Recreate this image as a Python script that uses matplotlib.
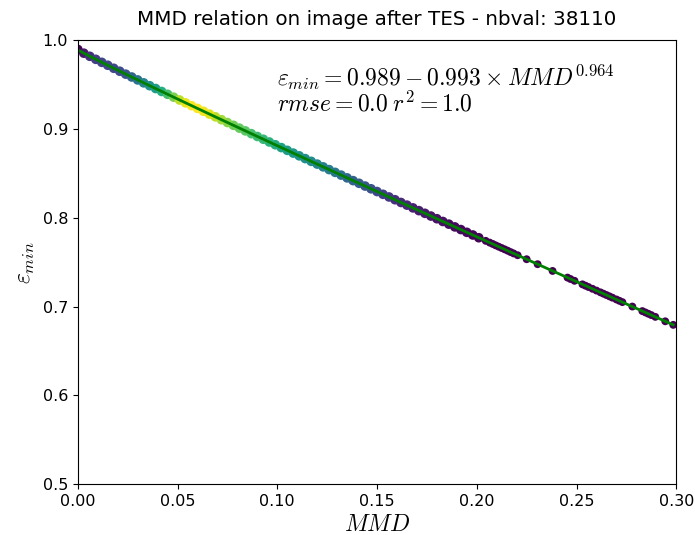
import matplotlib
matplotlib.use("Agg")
import matplotlib.pyplot as plt
import numpy as np

plt.rcParams["mathtext.fontset"] = "cm"
plt.rcParams["xtick.labelsize"] = 11.5
plt.rcParams["ytick.labelsize"] = 11.5

# dense part of the cloud (MMD, eps_min, point density 0..1)
mmd_dense = [0.000, 0.003, 0.006, 0.009, 0.012, 0.015, 0.018, 0.021, 0.024, 0.027,
             0.030, 0.033, 0.036, 0.039, 0.042, 0.045, 0.048, 0.051, 0.054, 0.057,
             0.060, 0.063, 0.066, 0.069, 0.072, 0.075, 0.078, 0.081, 0.084, 0.087,
             0.090, 0.093, 0.096, 0.099, 0.102, 0.105, 0.108, 0.111, 0.114, 0.117,
             0.120, 0.123, 0.126, 0.129, 0.132, 0.135, 0.138, 0.141, 0.144, 0.147,
             0.150, 0.153, 0.156, 0.159, 0.162, 0.165, 0.168, 0.171, 0.174, 0.177,
             0.180, 0.183, 0.186, 0.189, 0.192, 0.195, 0.198, 0.201]
eps_dense = [0.9895, 0.9853, 0.9818, 0.9784, 0.9750, 0.9717, 0.9683, 0.9650, 0.9617, 0.9585,
             0.9552, 0.9519, 0.9487, 0.9455, 0.9422, 0.9390, 0.9358, 0.9326, 0.9294, 0.9262,
             0.9231, 0.9199, 0.9167, 0.9136, 0.9104, 0.9072, 0.9041, 0.9009, 0.8978, 0.8947,
             0.8915, 0.8884, 0.8853, 0.8822, 0.8790, 0.8759, 0.8728, 0.8697, 0.8666, 0.8635,
             0.8604, 0.8573, 0.8542, 0.8511, 0.8480, 0.8449, 0.8418, 0.8388, 0.8357, 0.8326,
             0.8295, 0.8264, 0.8234, 0.8203, 0.8172, 0.8142, 0.8111, 0.8080, 0.8050, 0.8019,
             0.7989, 0.7958, 0.7928, 0.7897, 0.7867, 0.7836, 0.7806, 0.7775]
dens_dense = [0.00, 0.06, 0.14, 0.18, 0.20, 0.21, 0.22, 0.23, 0.26, 0.32,
              0.38, 0.44, 0.50, 0.55, 0.62, 0.70, 0.80, 0.90, 0.97, 1.00,
              1.00, 0.98, 0.95, 0.90, 0.86, 0.82, 0.78, 0.76, 0.74, 0.71,
              0.69, 0.67, 0.64, 0.61, 0.57, 0.55, 0.53, 0.51, 0.49, 0.48,
              0.46, 0.44, 0.42, 0.40, 0.36, 0.33, 0.31, 0.29, 0.27, 0.25,
              0.22, 0.19, 0.16, 0.14, 0.12, 0.11, 0.09, 0.08, 0.07, 0.06,
              0.05, 0.04, 0.03, 0.03, 0.02, 0.02, 0.01, 0.01]

# sparse tail
mmd_tail = [0.2045, 0.2065, 0.2080, 0.2095, 0.2110, 0.2125, 0.2140, 0.2155, 0.2170, 0.2185,
            0.2205, 0.2250, 0.2305, 0.2380, 0.2455, 0.2470, 0.2490, 0.2530, 0.2545, 0.2560,
            0.2580, 0.2600, 0.2620, 0.2635, 0.2650, 0.2665, 0.2680, 0.2700, 0.2715, 0.2730,
            0.2780, 0.2830, 0.2845, 0.2860, 0.2875, 0.2895, 0.2945, 0.2985]
eps_tail = [0.7740, 0.7720, 0.7705, 0.7689, 0.7674, 0.7659, 0.7644, 0.7629, 0.7613, 0.7598,
            0.7578, 0.7533, 0.7477, 0.7401, 0.7326, 0.7310, 0.7290, 0.7250, 0.7235, 0.7220,
            0.7200, 0.7180, 0.7160, 0.7145, 0.7130, 0.7115, 0.7100, 0.7080, 0.7065, 0.7050,
            0.7000, 0.6949, 0.6934, 0.6919, 0.6904, 0.6884, 0.6834, 0.6794]

# fit parameters shown on the chart
fit_a, fit_b, fit_c = 0.989, 0.993, 0.964

x = np.array(mmd_dense + mmd_tail)
y = np.array(eps_dense + eps_tail)
z = np.array(dens_dense + [0.0] * len(mmd_tail))
sizes = np.array([48] * len(mmd_dense) + [32] * len(mmd_tail))
order = z.argsort()

fig = plt.figure(figsize=(6.95, 5.35), dpi=100)
ax = fig.add_axes([0.112, 0.095, 0.861, 0.830])

ax.scatter(x[order], y[order], c=z[order], s=sizes[order], cmap="viridis",
           vmin=0, vmax=1, linewidths=0)

xs = np.sort(x)
ax.plot(xs, fit_a - fit_b * xs ** fit_c, color="green", lw=2)

ax.set_xlim(0, 0.30)
ax.set_ylim(0.5, 1.0)
ax.set_xlabel(r"$MMD$", fontsize=17, labelpad=2)
ax.set_ylabel(r"$\varepsilon_{min}$", fontsize=17)
ax.set_title("MMD relation on image after TES - nbval: 38110", fontsize=14.3, pad=11)
ax.text(0.1, 0.974,
        r"$\varepsilon_{min} = 0.989 - 0.993 \times MMD^{0.964}$" + "\n" + r"$rmse = 0.0 \; r^2 = 1.0$",
        fontsize=17, va="top", ha="left", linespacing=0.95)

fig.savefig("out.png")
